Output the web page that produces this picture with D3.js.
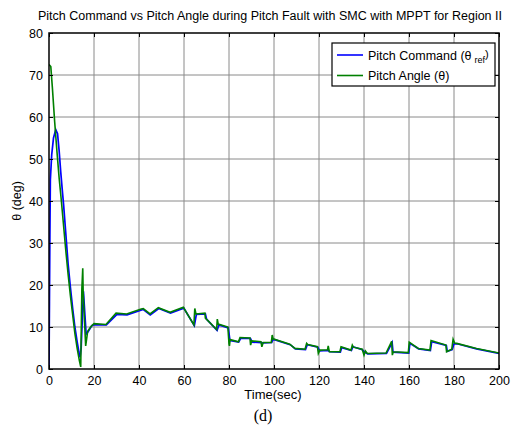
<!DOCTYPE html>
<html><head><meta charset="utf-8">
<script src="https://cdn.jsdelivr.net/npm/d3@7"></script>
<style>body{margin:0;background:#fff;}svg{display:block;}</style>
</head><body>
<svg id="c" width="514" height="427"></svg>
<script>
const titleText = "Pitch Command vs Pitch Angle during Pitch Fault with SMC with MPPT for Region II";
const xTicks = [0,20,40,60,80,100,120,140,160,180,200];
const yTicks = [0,10,20,30,40,50,60,70,80];
const seriesNames = ["Pitch Command", "Pitch Angle"];
const seriesColors = ["#0000ff", "#008000"];

const tCommand = [0,0.2,0.4,0.6,1.2,2,3,3.8,4.5,5.2,6,6.5,7.5,8.5,9.5,10.5,11.5,12.5,13.3,13.8,14.3,15.3,16.5,17.5,19,19.7,25.5,30.2,34.7,41.8,45,48.8,54,59.9,64.6,65.5,69.5,70,74.7,75.5,79.7,80.4,84.3,85.2,89.5,90.3,94.4,95.3,99,99.5,107.2,109.5,114,114.8,119.5,120.3,124,124.8,129.5,130.1,134.4,135.1,139.3,140.3,141.7,150,152.5,152.9,159.9,160.4,164.3,169.5,170.1,176.6,177,179.2,180,181.4,190,200];
const vCommand = [0,16,32,45,51,55,57,56,52,47,42,39,32,25,19.5,14.5,10,6.5,4,2.8,5,18.5,8.3,9,10.3,10.5,10.5,13,12.9,14.2,12.9,14.4,13.3,14.5,10.3,13,13.1,11.9,9.2,10.5,9.8,6.8,6.4,7.3,7.3,6.4,6.3,6.2,6.3,7.1,5.8,4.8,4.6,5.8,5.2,4.3,4.4,4.1,4,5.1,4.4,5.3,4.6,4,3.6,3.7,6.3,4,3.8,6.1,4.8,4.4,6.5,5.6,4.2,4.6,6,6,4.8,3.7];

const tAngle = [0,0.8,1.5,2.5,3.5,4.5,5.5,6.5,7.5,8.5,9.5,10.5,11.5,12.5,13.5,14.1,14.6,15,15.2,16.3,17.2,18.5,20,25.3,29.8,34.5,41,41.9,44.9,48.6,53.8,59.7,64.4,64.8,65.3,69.3,69.5,74.5,74.8,75.2,79.5,80,80.2,80.5,84.2,84.9,89.3,89.6,90.1,94.2,94.6,95.2,98.8,99.2,99.6,107,109.3,113.8,114.5,115,119.3,119.7,120.4,123.8,124.1,124.6,129.3,129.8,134.2,134.8,135.3,139.2,140,140.6,141.5,149.8,152.3,152.6,153,159.7,160.1,164.1,169.3,169.8,176.4,176.7,179,179.6,180.3,181.2,190,200];
const vAngle = [72.5,72,67,59,52,45.5,40,34,28,22.5,17.5,13,8.5,5,2,0.5,19,24,18,5.5,9,10,10.8,10.6,13.3,13.1,14.3,14.4,13.1,14.6,13.5,14.7,10.5,14.4,13.1,13.3,12.1,9.4,11.9,10.7,10,6,5.5,7,6.5,7.5,7.4,5.7,6.7,6.5,5.3,6.3,6.3,8.1,7.2,5.9,4.9,4.7,6.1,5.8,5.3,3.7,4.5,4.6,5.5,4.1,4.1,5.3,4.5,5.7,5.2,4.7,3.3,4.3,3.7,3.8,6.6,3.3,4.1,3.9,6.4,4.9,4.5,6.8,5.7,4.1,4.7,7.1,6.2,6.1,4.9,3.8];

const svg = d3.select("#c");
const L = 49, R = 499, T = 33, B = 369;
const x = d3.scaleLinear().domain([0,200]).range([L,R]);
const y = d3.scaleLinear().domain([0,80]).range([B,T]);
const font = "'Liberation Sans', Arial, sans-serif";

// grid
const g = svg.append("g");
g.selectAll(".vg").data(xTicks.slice(1,-1)).enter().append("line")
  .attr("x1",d=>x(d)).attr("x2",d=>x(d)).attr("y1",T).attr("y2",B)
  .attr("stroke","#8a8a8a").attr("stroke-width",1);
g.selectAll(".hg").data(yTicks.slice(1,-1)).enter().append("line")
  .attr("y1",d=>y(d)).attr("y2",d=>y(d)).attr("x1",L).attr("x2",R)
  .attr("stroke","#8a8a8a").attr("stroke-width",1);

// clip
svg.append("defs").append("clipPath").attr("id","clip").append("rect")
  .attr("x",L).attr("y",T-2).attr("width",R-L).attr("height",B-T+2);

const line = d3.line().x(d=>x(d[0])).y(d=>y(d[1]));
const cmd = tCommand.map((t,i)=>[t,vCommand[i]]);
const ang = tAngle.map((t,i)=>[t,vAngle[i]]);
svg.append("path").attr("d",line(cmd)).attr("fill","none").attr("stroke",seriesColors[0])
  .attr("stroke-width",1.7).attr("clip-path","url(#clip)");
svg.append("path").attr("d",line(ang)).attr("fill","none").attr("stroke",seriesColors[1])
  .attr("stroke-width",1.6).attr("clip-path","url(#clip)");

// axes
const xb = svg.append("g").attr("transform",`translate(0,${B})`)
  .call(d3.axisBottom(x).tickValues(xTicks).tickSize(-4).tickPadding(7).tickFormat(d3.format("d")));
const xt = svg.append("g").attr("transform",`translate(0,${T})`)
  .call(d3.axisTop(x).tickValues(xTicks).tickSize(-4).tickFormat(""));
const yl = svg.append("g").attr("transform",`translate(${L},0)`)
  .call(d3.axisLeft(y).tickValues(yTicks).tickSize(-4).tickPadding(6).tickFormat(d3.format("d")));
const yr = svg.append("g").attr("transform",`translate(${R},0)`)
  .call(d3.axisRight(y).tickValues(yTicks).tickSize(-4).tickFormat(""));
[xb,xt,yl,yr].forEach(a=>{
  a.select(".domain").remove();
  a.selectAll("line").attr("stroke","#000").attr("stroke-width",1);
  a.selectAll("text").attr("font-family",font).attr("font-size",12.5).attr("fill","#000");
});
svg.append("rect").attr("x",L).attr("y",T).attr("width",R-L).attr("height",B-T)
  .attr("fill","none").attr("stroke","#000").attr("stroke-width",1.5);

// title
svg.append("text").attr("x",270).attr("y",20).attr("text-anchor","middle")
  .attr("font-family",font).attr("font-size",12).attr("textLength",464).attr("lengthAdjust","spacingAndGlyphs")
  .text(titleText);
// x label
svg.append("text").attr("x",273).attr("y",399).attr("text-anchor","middle")
  .attr("font-family",font).attr("font-size",13).text("Time(sec)");
// y label
svg.append("text").attr("transform","translate(21,201) rotate(-90)").attr("text-anchor","middle")
  .attr("font-family",font).attr("font-size",12.5).text("θ (deg)");
// (d)
svg.append("text").attr("x",263).attr("y",421).attr("text-anchor","middle")
  .attr("font-family","'Liberation Serif', 'Times New Roman', serif").attr("font-size",16).text("(d)");

// legend
const lg = svg.append("g");
lg.append("rect").attr("x",332).attr("y",43).attr("width",163).attr("height",43)
  .attr("fill","#fff").attr("stroke","#000").attr("stroke-width",1.2);
const ly = [55,75.5];
ly.forEach((yy,i)=>{
  lg.append("line").attr("x1",337).attr("x2",363).attr("y1",yy).attr("y2",yy)
    .attr("stroke",seriesColors[i]).attr("stroke-width",1.6);
});
const t1 = lg.append("text").attr("x",368).attr("y",ly[0]+4.5).attr("font-family",font).attr("font-size",12.5);
t1.append("tspan").text(seriesNames[0]+" (θ");
t1.append("tspan").attr("dy",3).attr("dx",3).attr("font-size",9).text("ref");
t1.append("tspan").attr("dy",-5).attr("font-size",11).text(")");
lg.append("text").attr("x",368).attr("y",ly[1]+4.5).attr("font-family",font).attr("font-size",12.5)
  .text(seriesNames[1]+" (θ)");
</script>
</body></html>
